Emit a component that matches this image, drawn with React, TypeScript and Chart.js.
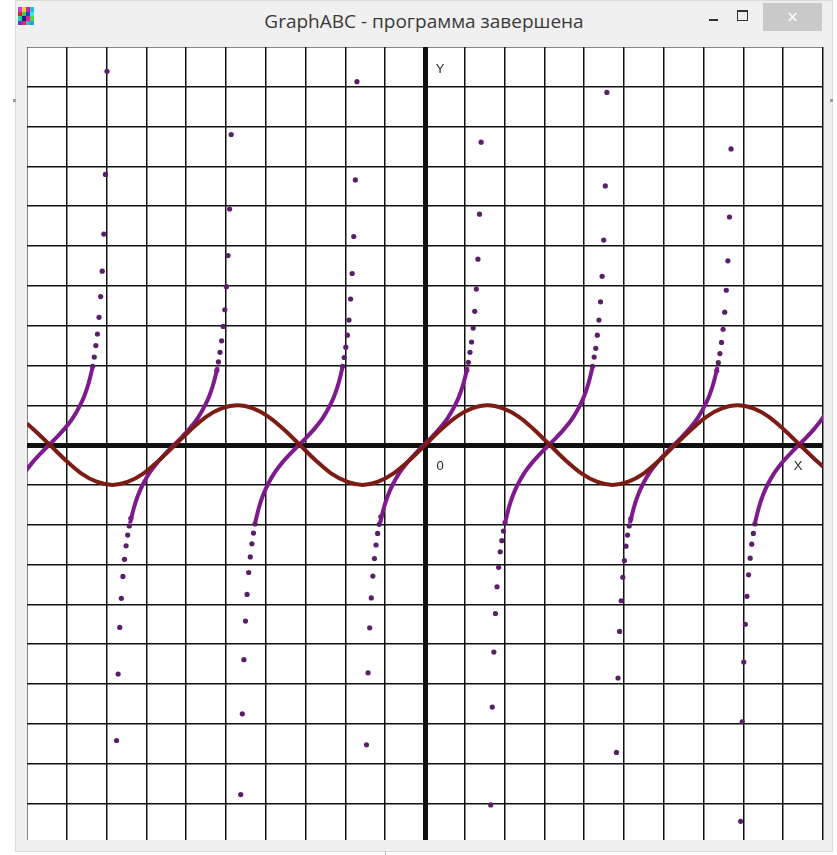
import React, { useEffect, useRef } from "react";
import { Chart, registerables } from "chart.js";

Chart.register(...registerables);

// y = sin x : values along the curve (x in grid units)
const SINE_X = [-10, -9.82, -9.42, -9.03, -8.64, -8.25, -7.85, -7.46, -7.07, -6.68, -6.28, -5.89, -5.5, -5.11, -4.71, -4.32, -3.93, -3.53, -3.14, -2.75, -2.36, -1.96, -1.57, -1.18, -0.79, -0.39, 0, 0.39, 0.79, 1.18, 1.57, 1.96, 2.36, 2.75, 3.14, 3.53, 3.93, 4.32, 4.71, 5.11, 5.5, 5.89, 6.28, 6.68, 7.07, 7.46, 7.85, 8.25, 8.64, 9.03, 9.42, 9.82, 10];
const SINE_Y = [0.54, 0.38, 0, -0.38, -0.71, -0.92, -1, -0.92, -0.71, -0.38, 0, 0.38, 0.71, 0.92, 1, 0.92, 0.71, 0.38, 0, -0.38, -0.71, -0.92, -1, -0.92, -0.71, -0.38, 0, 0.38, 0.71, 0.92, 1, 0.92, 0.71, 0.38, 0, -0.38, -0.71, -0.92, -1, -0.92, -0.71, -0.38, 0, 0.38, 0.71, 0.92, 1, 0.92, 0.71, 0.38, 0, -0.38, -0.54];

// y = tg x : zero crossings of each branch and the dense middle part of a branch
const TAN_CENTERS = [-9.45, -6.31, -3.17, -0.03, 3.11, 6.25, 9.39];
const TAN_CORE_DX = [-1.1, -1.0, -0.9, -0.78, -0.6, -0.4, -0.2, 0, 0.2, 0.4, 0.6, 0.78, 0.9, 1.0, 1.1];
const TAN_CORE_Y = [-1.96, -1.56, -1.26, -0.99, -0.68, -0.42, -0.2, 0, 0.2, 0.42, 0.68, 0.99, 1.26, 1.56, 1.96];

// y = tg x : separate points close to the asymptotes, one pair of lists per half-branch
const TAN_A_X = [-7.99, -8.03, -8.07, -8.11, -8.15, -8.19, -8.23, -8.27, -8.31, -8.35];
const TAN_A_Y = [9.39, 6.8, 5.3, 4.37, 3.73, 3.21, 2.79, 2.5, 2.21, 1.98];
const TAN_B_X = [-7.75, -7.71, -7.67, -7.63, -7.59, -7.55, -7.51, -7.47, -7.43, -7.39];
const TAN_B_Y = [-7.42, -5.75, -4.58, -3.85, -3.3, -2.87, -2.53, -2.26, -2.03, -1.84];
const TAN_C_X = [-4.87, -4.91, -4.95, -4.99, -5.03, -5.07, -5.11, -5.15, -5.19, -5.23];
const TAN_C_Y = [7.8, 5.93, 4.76, 3.98, 3.4, 2.98, 2.62, 2.33, 2.09, 1.88];
const TAN_D_X = [-4.63, -4.59, -4.55, -4.51, -4.47, -4.43, -4.39, -4.35, -4.31, -4.27];
const TAN_D_Y = [-8.78, -6.75, -5.39, -4.42, -3.75, -3.2, -2.81, -2.48, -2.21, -1.98];
const TAN_E_X = [-1.71, -1.75, -1.79, -1.83, -1.87, -1.91, -1.95, -1.99, -2.03, -2.07];
const TAN_E_Y = [9.13, 6.66, 5.24, 4.31, 3.67, 3.14, 2.76, 2.46, 2.2, 1.98];
const TAN_F_X = [-1.47, -1.43, -1.39, -1.35, -1.31, -1.27, -1.23, -1.19, -1.15, -1.11];
const TAN_F_Y = [-7.53, -5.72, -4.59, -3.84, -3.29, -2.85, -2.51, -2.22, -1.99, -1.8];
const TAN_G_X = [1.41, 1.37, 1.33, 1.29, 1.25, 1.21, 1.17, 1.13, 1.09, 1.05];
const TAN_G_Y = [7.61, 5.8, 4.67, 3.92, 3.36, 2.94, 2.59, 2.33, 2.08, 1.88];
const TAN_H_X = [1.65, 1.69, 1.73, 1.77, 1.81, 1.85, 1.89, 1.93, 1.97, 2.01];
const TAN_H_Y = [-9.04, -6.58, -5.2, -4.23, -3.56, -3.07, -2.68, -2.4, -2.16, -1.95];
const TAN_I_X = [4.57, 4.53, 4.49, 4.45, 4.41, 4.37, 4.33, 4.29, 4.25, 4.21];
const TAN_I_Y = [8.86, 6.51, 5.15, 4.24, 3.6, 3.14, 2.76, 2.43, 2.21, 1.98];
const TAN_J_X = [4.81, 4.85, 4.89, 4.93, 4.97, 5.01, 5.05, 5.09, 5.13, 5.17];
const TAN_J_Y = [-7.72, -5.85, -4.68, -3.91, -3.32, -2.9, -2.54, -2.26, -2.03, -1.85];
const TAN_K_X = [7.69, 7.65, 7.61, 7.57, 7.53, 7.49, 7.45, 7.41, 7.37, 7.33];
const TAN_K_Y = [7.44, 5.73, 4.63, 3.89, 3.34, 2.91, 2.58, 2.3, 2.07, 1.87];
const TAN_L_X = [7.93, 7.97, 8.01, 8.05, 8.09, 8.13, 8.17, 8.21, 8.25, 8.29];
const TAN_L_Y = [-9.45, -6.95, -5.45, -4.5, -3.8, -3.26, -2.84, -2.49, -2.22, -1.98];

// grid lines, one per unit
const GRID_X = [-10, -9, -8, -7, -6, -5, -4, -3, -2, -1, 0, 1, 2, 3, 4, 5, 6, 7, 8, 9, 10];
const GRID_Y = [-9, -8, -7, -6, -5, -4, -3, -2, -1, 0, 1, 2, 3, 4, 5, 6, 7, 8, 9, 10];

const TITLE = "GraphABC - программа завершена";

const SINE_COLOR = "#7c1c14";
const TAN_LINE_COLOR = "#7e1a8e";
const TAN_DOT_COLOR = "#5a1f68";

type P = { x: number; y: number };
const pts = (xs: number[], ys: number[]): P[] => xs.map((x, i) => ({ x, y: ys[i] }));

const axisLabels = {
  id: "axisLabels",
  afterDraw(chart: any) {
    const { ctx, chartArea } = chart;
    const sx = chart.scales.x;
    const sy = chart.scales.y;
    const ox = sx.getPixelForValue(0);
    const oy = sy.getPixelForValue(0);
    ctx.save();
    ctx.fillStyle = "#2a2a2a";
    ctx.font = "13px 'Liberation Sans', Arial, sans-serif";
    ctx.textAlign = "center";
    ctx.textBaseline = "middle";
    ctx.fillText("Y", ox + 15, chartArea.top + 22);
    ctx.fillText("0", ox + 15, oy + 21);
    ctx.fillText("X", chartArea.right - 25, oy + 21);
    ctx.restore();
  },
};

function GraphCanvas() {
  const ref = useRef<HTMLCanvasElement | null>(null);
  useEffect(() => {
    if (!ref.current) return;
    const dots: P[] = [
      ...pts(TAN_A_X, TAN_A_Y),
      ...pts(TAN_B_X, TAN_B_Y),
      ...pts(TAN_C_X, TAN_C_Y),
      ...pts(TAN_D_X, TAN_D_Y),
      ...pts(TAN_E_X, TAN_E_Y),
      ...pts(TAN_F_X, TAN_F_Y),
      ...pts(TAN_G_X, TAN_G_Y),
      ...pts(TAN_H_X, TAN_H_Y),
      ...pts(TAN_I_X, TAN_I_Y),
      ...pts(TAN_J_X, TAN_J_Y),
      ...pts(TAN_K_X, TAN_K_Y),
      ...pts(TAN_L_X, TAN_L_Y),
    ];
    const cores = TAN_CENTERS.map((c) => ({
      type: "line" as const,
      label: "tg x",
      data: TAN_CORE_DX.map((d, i) => ({ x: c + d, y: TAN_CORE_Y[i] })),
      borderColor: TAN_LINE_COLOR,
      borderWidth: 4,
      pointRadius: 0,
      cubicInterpolationMode: "monotone" as const,
      clip: 0,
      order: 1,
    }));
    const gridWidth = (ctx: any) => (ctx.tick && ctx.tick.value === 0 ? 5 : 1.5);
    const chart = new Chart(ref.current, {
      type: "line",
      data: {
        datasets: [
          {
            label: "sin x",
            data: pts(SINE_X, SINE_Y),
            borderColor: SINE_COLOR,
            borderWidth: 4,
            pointRadius: 0,
            cubicInterpolationMode: "monotone",
            clip: 0,
            order: 0,
          },
          ...cores,
          {
            label: "tg x points",
            data: dots,
            showLine: false,
            pointRadius: 2.6,
            pointHoverRadius: 2.6,
            pointBorderWidth: 0,
            pointBackgroundColor: TAN_DOT_COLOR,
            borderColor: TAN_DOT_COLOR,
            clip: 0,
            order: 1,
          },
        ] as any,
      },
      options: {
        animation: false,
        responsive: false,
        maintainAspectRatio: false,
        layout: { autoPadding: false, padding: { left: 0, top: 0, right: 1, bottom: 0 } },
        plugins: { legend: { display: false }, tooltip: { enabled: false } },
        events: [],
        scales: {
          x: {
            type: "linear",
            min: -10,
            max: 10,
            afterBuildTicks: (s: any) => {
              s.ticks = GRID_X.map((v) => ({ value: v }));
            },
            ticks: { display: false },
            grid: { color: "#111", lineWidth: gridWidth, drawTicks: false },
            border: { display: false },
          },
          y: {
            type: "linear",
            min: -9.92,
            max: 10,
            afterBuildTicks: (s: any) => {
              s.ticks = GRID_Y.map((v) => ({ value: v }));
            },
            ticks: { display: false },
            grid: { color: "#111", lineWidth: gridWidth, drawTicks: false },
            border: { display: false },
          },
        },
      } as any,
      plugins: [axisLabels],
    });
    return () => chart.destroy();
  }, []);
  return (
    <canvas
      ref={ref}
      width={797}
      height={793}
      style={{ position: "absolute", left: 27, top: 47, width: 797, height: 793, background: "#fff" }}
    />
  );
}

function AppIcon() {
  const cells = [
    "#d83ad0", "#e8d23a", "#c02a9a", "#2ab8e8",
    "#d02a2a", "#3ad04a", "#2a3ad0", "#3ae8e0",
    "#2ad0a0", "#1a1a8a", "#d02a9a", "#40e040",
    "#7a2ad0", "#e02a5a", "#30c0c0", "#2a9ae8",
  ];
  return (
    <div style={{ position: "absolute", left: 18, top: 7, width: 16, height: 18, display: "grid", gridTemplateColumns: "repeat(4, 4px)", gridTemplateRows: "repeat(4, 4.5px)" }}>
      {cells.map((c, i) => (
        <div key={i} style={{ background: c }} />
      ))}
    </div>
  );
}

export default function App() {
  return (
    <div style={{ position: "fixed", left: 0, top: 0, width: 837, height: 855, background: "#ffffff", overflow: "hidden" }}>
      {/* window frame */}
      <div style={{ position: "absolute", left: 16, top: 1, width: 816, height: 850, background: "#f0f0f0", boxShadow: "0 0 0 1px #dcdcdc" }} />
      {/* title bar */}
      <AppIcon />
      <div
        style={{
          position: "absolute",
          left: 16,
          top: 4,
          width: 816,
          height: 34,
          lineHeight: "34px",
          textAlign: "center",
          fontFamily: "'Open Sans', 'Noto Sans', sans-serif",
          fontSize: 19,
          color: "#3a3a3a",
        }}
      >
        {TITLE}
      </div>
      {/* minimize */}
      <div style={{ position: "absolute", left: 709, top: 19, width: 9, height: 2, background: "#333" }} />
      {/* maximize */}
      <div style={{ position: "absolute", left: 737, top: 10, width: 9, height: 8, border: "1px solid #333", borderTopWidth: 2 }} />
      {/* close */}
      <div style={{ position: "absolute", left: 763, top: 3, width: 59, height: 28, background: "#c9c9c9" }} />
      <div
        style={{
          position: "absolute",
          left: 763,
          top: 3,
          width: 59,
          height: 28,
          lineHeight: "28px",
          textAlign: "center",
          color: "#ffffff",
          fontFamily: "'DejaVu Sans', sans-serif",
          fontSize: 15,
        }}
      >
        ×
      </div>
      {/* edges of windows behind */}
      <div style={{ position: "absolute", left: 13, top: 99, width: 3, height: 3, background: "#9a9a9a" }} />
      <div style={{ position: "absolute", left: 830, top: 99, width: 3, height: 3, background: "#9a9a9a" }} />
      <div style={{ position: "absolute", left: 385, top: 851, width: 1, height: 4, background: "#bdbdbd" }} />
      <GraphCanvas />
    </div>
  );
}
